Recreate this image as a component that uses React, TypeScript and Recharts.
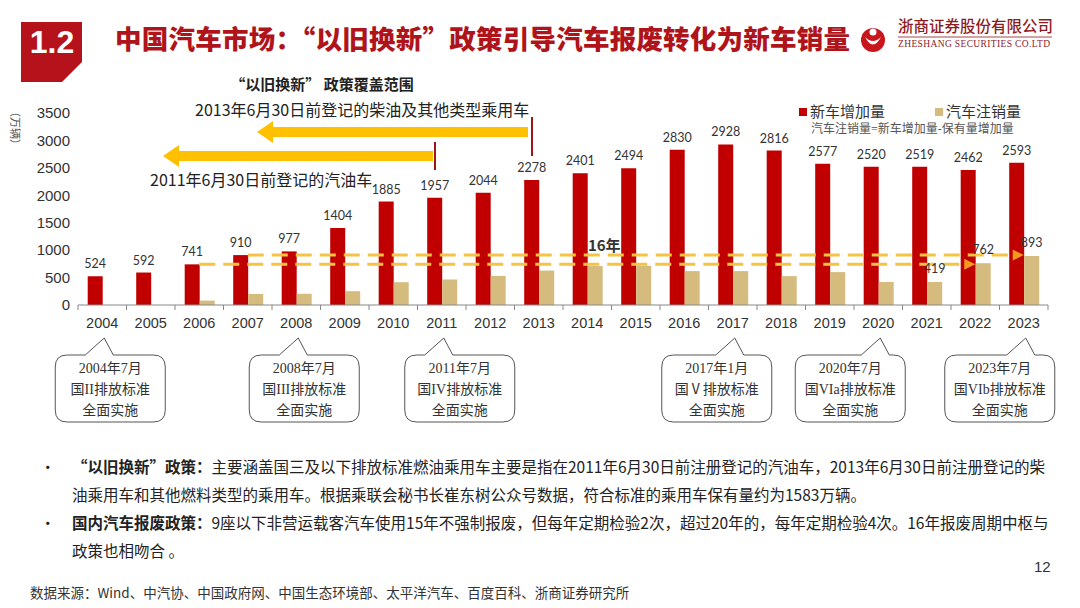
import React from 'react'
import { Bar, BarChart, LabelList, Legend, ReferenceDot, ReferenceLine, XAxis, YAxis } from 'recharts'

const years = ['2004', '2005', '2006', '2007', '2008', '2009', '2010', '2011', '2012', '2013', '2014', '2015', '2016', '2017', '2018', '2019', '2020', '2021', '2022', '2023']
const newCars = [524, 592, 741, 910, 977, 1404, 1885, 1957, 2044, 2278, 2401, 2494, 2830, 2928, 2816, 2577, 2520, 2519, 2462, 2593]
const scrapped = [0, 0, 80, 200, 205, 252, 416, 465, 530, 628, 710, 715, 618, 618, 527, 600, 420, 419, 762, 893]
const scrapLabelYears = ['2021', '2022', '2023']
const yTicks = [0, 500, 1000, 1500, 2000, 2500, 3000, 3500]

// 16-year scrappage cycle: sales in year A ~ scrapped in year B
const cycleLow = { from: '2006', to: '2022', value: 741 }
const cycleHigh = { from: '2007', to: '2023', value: 910 }

const calloutYears = ['2004', '2008', '2011', '2017', '2020', '2023']
const calloutLines = [
  ['2004年7月', '国II排放标准', '全面实施'],
  ['2008年7月', '国III排放标准', '全面实施'],
  ['2011年7月', '国IV排放标准', '全面实施'],
  ['2017年1月', '国Ⅴ排放标准', '全面实施'],
  ['2020年7月', '国VIa排放标准', '全面实施'],
  ['2023年7月', '国VIb排放标准', '全面实施'],
]
const calloutShift = [6, 6, 16, -18, -30, -26]

const data = years.map((year, i) => ({
  year,
  newCars: newCars[i],
  scrapped: scrapped[i],
  scrapLabel: scrapLabelYears.includes(year) ? scrapped[i] : null,
}))

const RED = '#C00000'
const TAN = '#D6BB7E'
const SANS = '"Liberation Sans", Arial, "Noto Sans CJK SC", sans-serif'
const CJK = '"Noto Sans CJK SC", "Liberation Sans", sans-serif'
const SERIF = '"Liberation Serif", "Noto Sans CJK SC", serif'

const XTick = (props: any) => {
  const { x, y, payload, index } = props
  const half = (props.width ? props.width / years.length : 48.5) / 2
  return (
    <g>
      <line x1={x - half} y1={y} x2={x - half} y2={y + 5} stroke="#888" />
      {index === years.length - 1 && <line x1={x + half} y1={y} x2={x + half} y2={y + 5} stroke="#888" />}
      <text x={x} y={y + 23} textAnchor="middle" fill="#333" fontSize={14.5} fontFamily={SANS}>
        {payload.value}
      </text>
    </g>
  )
}

const ScrapLabel = (props: any) => {
  const { x, y, width, value } = props
  if (value == null) return null
  return (
    <text x={x + width / 2} y={y - 9} textAnchor="middle" fill="#333" fontSize={12.5} fontFamily="Lato, sans-serif">
      {value}
    </text>
  )
}

const DashedArrow = (props: any) => {
  const { x1, y1, x2, y2 } = props
  return (
    <g>
      <line x1={x1} y1={y1} x2={x2 - 8} y2={y2} stroke="#F6C443" strokeWidth={3} strokeDasharray="16 8" />
      <path d={`M${x2 - 11},${y2 - 5.5} L${x2},${y2} L${x2 - 11},${y2 + 5.5} Z`} fill="#F29A1F" />
    </g>
  )
}

function calloutPath(x0: number, y0: number, w: number, h: number, r: number, tipX: number, tipY: number) {
  const x1 = x0 + w
  const y1 = y0 + h
  const bl = tipX - 19
  const br = tipX + 9
  return `M${x0 + r},${y0} L${bl},${y0} L${tipX},${tipY} L${br},${y0} L${x1 - r},${y0} Q${x1},${y0} ${x1},${y0 + r} L${x1},${y1 - r} Q${x1},${y1} ${x1 - r},${y1} L${x0 + r},${y1} Q${x0},${y1} ${x0},${y1 - r} L${x0},${y0 + r} Q${x0},${y0} ${x0 + r},${y0} Z`
}

const Callout = ({ cx, cy, lines, shift }: any) => {
  const w = 110
  const boxCx = cx + 2 + shift
  const top = cy + 50
  return (
    <g>
      <path d={calloutPath(boxCx - w / 2, top, w, 67, 12, cx + 2, cy + 33)} fill="#fff" stroke="#555" strokeWidth={1} />
      {lines.map((t: string, i: number) => (
        <text key={i} x={boxCx} y={top + 18 + i * 21} textAnchor="middle" fill="#333" fontSize={14} fontFamily={SERIF}>
          {t}
        </text>
      ))}
    </g>
  )
}

const LegendBox = () => (
  <div style={{ fontFamily: SERIF, color: '#333' }}>
    <div style={{ display: 'flex', alignItems: 'center', fontSize: 15, lineHeight: '18px' }}>
      <span style={{ width: 8, height: 8, background: RED, marginRight: 3 }} />
      <span style={{ width: 125 }}>新车增加量</span>
      <span style={{ width: 8, height: 8, background: TAN, marginRight: 3 }} />
      <span>汽车注销量</span>
    </div>
    <div style={{ fontSize: 12, color: '#555', marginLeft: 12, lineHeight: '16px' }}>汽车注销量=新车增加量-保有量增加量</div>
  </div>
)

export default function App() {
  return (
    <div style={{ position: 'absolute', left: 0, top: 0, width: 1080, height: 608, background: '#fff', fontFamily: CJK, overflow: 'hidden' }}>
      {/* header */}
      <svg width={1080} height={90} style={{ position: 'absolute', left: 0, top: 0 }}>
        <polygon points="21,22 82,22 82,62 62,82 21,82" fill="#B5121B" />
        <text x={52} y={53} textAnchor="middle" fill="#fff" fontSize={32} fontWeight={700} fontFamily={SANS}>
          1.2
        </text>
        <text x={115} y={49} fill="#B0141B" fontSize={26.5} fontWeight={900} fontFamily={CJK} textLength={735}>
          中国汽车市场：“以旧换新”政策引导汽车报废转化为新车销量
        </text>
        <circle cx={873} cy={40} r={12} fill="#C8161D" />
        <path d="M865,37 Q873,52 881,37 Q873,45 865,37 Z" fill="#fff" />
        <circle cx={873} cy={32} r={3.5} fill="#fff" />
        <text x={898} y={32} fill="#8E1B1F" fontSize={15.5} fontFamily={CJK} fontWeight={500}>
          浙商证券股份有限公司
        </text>
        <line x1={898} y1={37} x2={1052} y2={37} stroke="#8E1B1F" strokeWidth={0.8} />
        <text x={898} y={47} fill="#8E1B1F" fontSize={9.5} fontFamily={SERIF} textLength={152}>
          ZHESHANG SECURITIES CO.LTD
        </text>
      </svg>

      <div style={{ position: 'absolute', left: 0, top: 0 }}>
        <BarChart width={1080} height={440} data={data} margin={{ top: 113, right: 32, bottom: 105, left: 28 }} barCategoryGap="20%" barGap={0}>
          <XAxis dataKey="year" interval={0} tickLine={false} tickSize={0} tickMargin={0} axisLine={{ stroke: '#888' }} tick={(p: any) => <XTick {...p} />} />
          <YAxis width={50} domain={[0, 3500]} ticks={yTicks} axisLine={false} tickLine={false} tick={{ fill: '#333', fontSize: 15, fontFamily: SANS }} />
          <Legend layout="horizontal" verticalAlign="middle" content={() => <LegendBox />} wrapperStyle={{ position: 'absolute', left: 799, top: 103, width: 260, height: 36 }} />
          <Bar dataKey="newCars" fill={RED} isAnimationActive={false}>
            <LabelList dataKey="newCars" position="top" offset={8} fill="#333" fontSize={12.5} fontFamily="Lato, sans-serif" />
          </Bar>
          <Bar dataKey="scrapped" fill={TAN} isAnimationActive={false}>
            <LabelList dataKey="scrapLabel" content={(p: any) => <ScrapLabel {...p} />} />
          </Bar>
          <ReferenceLine segment={[{ x: cycleLow.from, y: cycleLow.value }, { x: cycleLow.to, y: cycleLow.value }]} shape={(p: any) => <DashedArrow {...p} />} />
          <ReferenceLine segment={[{ x: cycleHigh.from, y: cycleHigh.value }, { x: cycleHigh.to, y: cycleHigh.value }]} shape={(p: any) => <DashedArrow {...p} />} />
          <ReferenceDot
            x="2014"
            y={cycleHigh.value}
            r={0}
            shape={(p: any) => (
              <text x={p.cx + 17} y={p.cy - 4} textAnchor="middle" fill="#333" fontSize={15} fontWeight={700} fontFamily={CJK}>
                16年
              </text>
            )}
          />
          {calloutYears.map((yr, i) => (
            <ReferenceDot key={yr} x={yr} y={0} r={0} ifOverflow="visible" shape={(p: any) => <Callout cx={p.cx} cy={p.cy} lines={calloutLines[i]} shift={calloutShift[i]} />} />
          ))}
        </BarChart>
      </div>

      {/* policy coverage annotation */}
      <svg width={1080} height={200} style={{ position: 'absolute', left: 0, top: 0, pointerEvents: 'none' }}>
        <text x={322} y={90} textAnchor="middle" fill="#222" fontSize={15} fontWeight={700} fontFamily={CJK}>
          “以旧换新” 政策覆盖范围
        </text>
        <text x={195} y={116} fill="#222" fontSize={16} fontFamily={CJK}>
          2013年6月30日前登记的柴油及其他类型乘用车
        </text>
        <rect x={270} y={127} width={258} height={10} fill="#FFC000" />
        <polygon points="257,132 273,121 273,143" fill="#FFC000" />
        <line x1={532} y1={117} x2={532} y2={156} stroke="#A0141E" strokeWidth={2} />
        <rect x={176} y={151} width={257} height={10} fill="#FFC000" />
        <polygon points="163,156 179,145 179,167" fill="#FFC000" />
        <line x1={435} y1={142} x2={435} y2={170} stroke="#A0141E" strokeWidth={2} />
        <text x={150} y={186} fill="#222" fontSize={16} fontFamily={CJK}>
          2011年6月30日前登记的汽油车
        </text>
        <text transform="translate(11,106) rotate(90)" fill="#555" fontSize={11} fontFamily={CJK}>
          （万辆）
        </text>
      </svg>

      {/* bullets */}
      <div style={{ position: 'absolute', left: 0, top: 452, width: 1080, fontSize: 15.5, color: '#222', lineHeight: '28px', whiteSpace: 'nowrap' }}>
        <div style={{ position: 'relative', paddingLeft: 72 }}>
          <span style={{ position: 'absolute', left: 40 }}>•</span>
          <b>“以旧换新”政策：</b>主要涵盖国三及以下排放标准燃油乘用车主要是指在2011年6月30日前注册登记的汽油车，2013年6月30日前注册登记的柴
        </div>
        <div style={{ paddingLeft: 72 }}>油乘用车和其他燃料类型的乘用车。根据乘联会秘书长崔东树公众号数据，符合标准的乘用车保有量约为1583万辆。</div>
        <div style={{ position: 'relative', paddingLeft: 72 }}>
          <span style={{ position: 'absolute', left: 40 }}>•</span>
          <b>国内汽车报废政策：</b>9座以下非营运载客汽车使用15年不强制报废，但每年定期检验2次，超过20年的，每年定期检验4次。16年报废周期中枢与
        </div>
        <div style={{ paddingLeft: 72 }}>政策也相吻合 。</div>
      </div>

      <div style={{ position: 'absolute', left: 1034, top: 558, fontSize: 15, color: '#333', fontFamily: SANS }}>12</div>
      <div style={{ position: 'absolute', left: 30, top: 582, fontSize: 13.5, color: '#333', whiteSpace: 'nowrap' }}>
        数据来源：Wind、中汽协、中国政府网、中国生态环境部、太平洋汽车、百度百科、浙商证券研究所
      </div>
    </div>
  )
}
